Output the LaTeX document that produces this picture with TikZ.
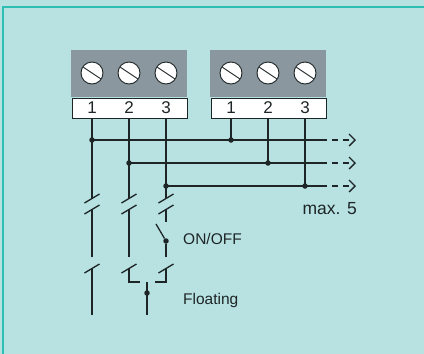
\documentclass[tikz,border=0pt]{standalone}
\usepackage{fontspec}
\setmainfont{Liberation Sans}
\usetikzlibrary{arrows.meta}
\definecolor{panelbg}{HTML}{B8E2E2}
\definecolor{paneledge}{HTML}{2FBFB2}
\definecolor{blockgray}{HTML}{8A979E}
\definecolor{wirecol}{HTML}{1E2526}
\tikzset{
  wire/.style={draw=wirecol,line width=1.3pt},
  junction/.style={circle,fill=wirecol,inner sep=0pt,minimum size=5.5pt},
  screw_node/.style={circle,draw=wirecol,fill=white,line width=0.9pt,minimum size=22pt,inner sep=0pt},
  label_node/.style={font=\fontsize{15.5}{17}\selectfont,text=wirecol,inner sep=0pt},
  term_num/.style={font=\fontsize{17}{18}\selectfont,text=wirecol,inner sep=0pt}
}
\begin{document}
\begin{tikzpicture}[x=1pt,y=-1pt]
  \useasboundingbox (0,0) rectangle (424,354);
  \fill[panelbg] (0,0) rectangle (424,354);
  \draw[paneledge,line width=2pt] (3,354) -- (3,7) -- (424,7);
  % terminal blocks
  \foreach \b/\x in {A/71,B/210}
  {
    \begin{scope}[xshift=\x pt]
      \fill[blockgray] (0,50) rectangle (116,97);
      \node[draw=wirecol,fill=white,line width=0.9pt,minimum width=115pt,minimum height=20.5pt,inner sep=0pt,anchor=north west] (strip\b) at (1,97.5) {};
      \foreach \s/\d in {1/21,2/58,3/95}
      {
        \node[screw_node] (screw\b\s) at (\d,73) {};
        \draw[wirecol,line width=0.9pt] (\d-8.7,73-5.8) -- (\d+8.7,73+5.8);
        \node[term_num] (num\b\s) at (\d,108) {\s};
        \coordinate (pin\b\s) at (\d,118);
      }
    \end{scope}
  }
  % bus lines
  \foreach \s/\y in {1/140,2/163,3/186}
  {
    \coordinate (bus\s) at (pinA\s |- 0,\y);
    \coordinate (tap\s) at (pinB\s |- 0,\y);
    \coordinate (end\s) at (327,\y);
    \coordinate (tip\s) at (356,\y);
    \draw[wire] (bus\s) -- (end\s);
    \draw[wire,dash pattern=on 6pt off 5pt,-{Straight Barb[length=6pt,width=12pt]}] (end\s) ++(5,0) -- (tip\s);
    \draw[wire] (pinB\s) -- (tap\s);
    \node[junction] (dotB\s) at (tap\s) {};
  }
  \node[junction] (dotA1) at (bus1) {};
  \node[junction] (dotA2) at (bus2) {};
  \node[junction] (dotA3) at (bus3) {};
  % contacts
  \foreach \s in {1,2,3}
  {
    \coordinate (up\s) at (pinA\s |- 0,198);
    \coordinate (lo\s) at (pinA\s |- 0,210);
    \coordinate (ba\s) at (pinA\s |- 0,269);
    \draw[wire] (pinA\s) -- (up\s);
    \draw[wire] (up\s) ++(-7.5,5) -- ++(15,-9);
    \draw[wire] (lo\s) ++(-7.5,4) -- ++(15,-9);
    \draw[wire] (ba\s) ++(-7.5,4) -- ++(15,-9);
  }
  \draw[wire] (lo1) -- (pinA1 |- 0,257);
  \draw[wire] (ba1) -- (pinA1 |- 0,315);
  \draw[wire] (lo2) -- (pinA2 |- 0,257);
  \coordinate (hookL) at (pinA2 |- 0,282);
  \coordinate (hookR) at (pinA3 |- 0,282);
  \coordinate (comL) at (140,282);
  \coordinate (comR) at (155,282);
  \draw[wire] (ba2) -- (hookL) -- (comL);
  \draw[wire] (ba3) -- (hookR) -- (comR);
  % on/off switch
  \node[junction] (swDot) at (pinA3 |- 0,241) {};
  \coordinate (swOpen) at (156,224);
  \draw[wire] (lo3) -- (pinA3 |- 0,222);
  \draw[wire] (swOpen) -- (swDot);
  \draw[wire] (swDot) -- (pinA3 |- 0,257);
  % floating output
  \coordinate (floatTop) at (147,282);
  \coordinate (floatEnd) at (147,315);
  \draw[wire] (floatTop) -- (floatEnd);
  \node[junction] (floatDot) at (147,293) {};
  % labels
  \node[label_node,anchor=west] (onoff) at (183,239) {ON/OFF};
  \node[label_node,anchor=west] (floating) at (183,300) {Floating};
  \node[label_node,anchor=east,font=\fontsize{17.5}{19}\selectfont] (maxfive) at (357,209) {max. 5};
\end{tikzpicture}
\end{document}
